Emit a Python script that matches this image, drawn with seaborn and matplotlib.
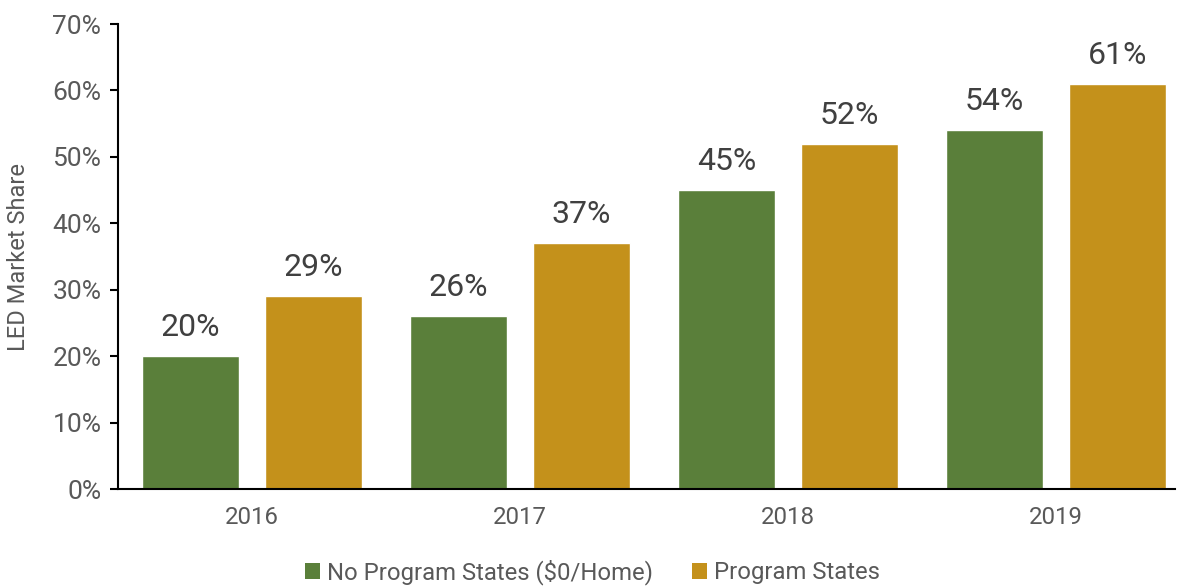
import matplotlib
matplotlib.use("Agg")
import matplotlib.pyplot as plt
import seaborn as sns
import pandas as pd
from matplotlib.ticker import PercentFormatter
from matplotlib.patches import Patch

years = ["2016", "2017", "2018", "2019"]
series_names = ["No Program States ($0/Home)", "Program States"]
no_program = [20, 26, 45, 54]
program = [29, 37, 52, 61]
colors = ["#5a7f3a", "#c4911b"]

df = pd.DataFrame({
    "Year": years * 2,
    "Series": [series_names[0]] * 4 + [series_names[1]] * 4,
    "Share": no_program + program,
})

sns.set_theme(style="white")
plt.rcParams['font.family'] = ['Roboto', 'DejaVu Sans']
text_color = "#595959"

fig = plt.figure(figsize=(11.85, 5.86), dpi=100)
ax = fig.add_axes([0.0996, 0.1655, 0.892, 0.7935])

sns.barplot(data=df, x="Year", y="Share", hue="Series", hue_order=series_names,
            palette=colors, width=0.92, gap=0.21, ax=ax, legend=False,
            saturation=1, errorbar=None)

for cont in ax.containers:
    ax.bar_label(cont, labels=[f"{v:.0f}%" for v in cont.datavalues],
                 padding=10, fontsize=23, color="#404040")

ax.set_ylim(0, 70)
ax.set_xlim(-0.5, 3.444)
ax.set_yticks(range(0, 71, 10))
ax.yaxis.set_major_formatter(PercentFormatter(decimals=0))
ax.tick_params(axis="y", which="major", direction="out", length=6, width=1.5,
               color="black", labelsize=19, labelcolor=text_color, left=True, pad=6)
ax.tick_params(axis="x", length=0, labelsize=17.3, labelcolor=text_color, pad=12)
ax.set_xlabel("")
ax.set_ylabel("LED Market Share", fontsize=17, color=text_color, labelpad=10)
ax.yaxis.set_label_coords(-0.083, 0.5)

for s in ["top", "right"]:
    ax.spines[s].set_visible(False)
for s in ["left", "bottom"]:
    ax.spines[s].set_color("black")
    ax.spines[s].set_linewidth(1.5)

handles = [Patch(facecolor=c, edgecolor="none") for c in colors]
fig.legend(handles, series_names, loc="lower center", bbox_to_anchor=(0.5, -0.035),
           ncol=2, frameon=False, fontsize=17.2, labelcolor=text_color,
           handlelength=0.65, handleheight=0.65, handletextpad=0.3, columnspacing=1.6)

fig.savefig("out.png", dpi=100)
